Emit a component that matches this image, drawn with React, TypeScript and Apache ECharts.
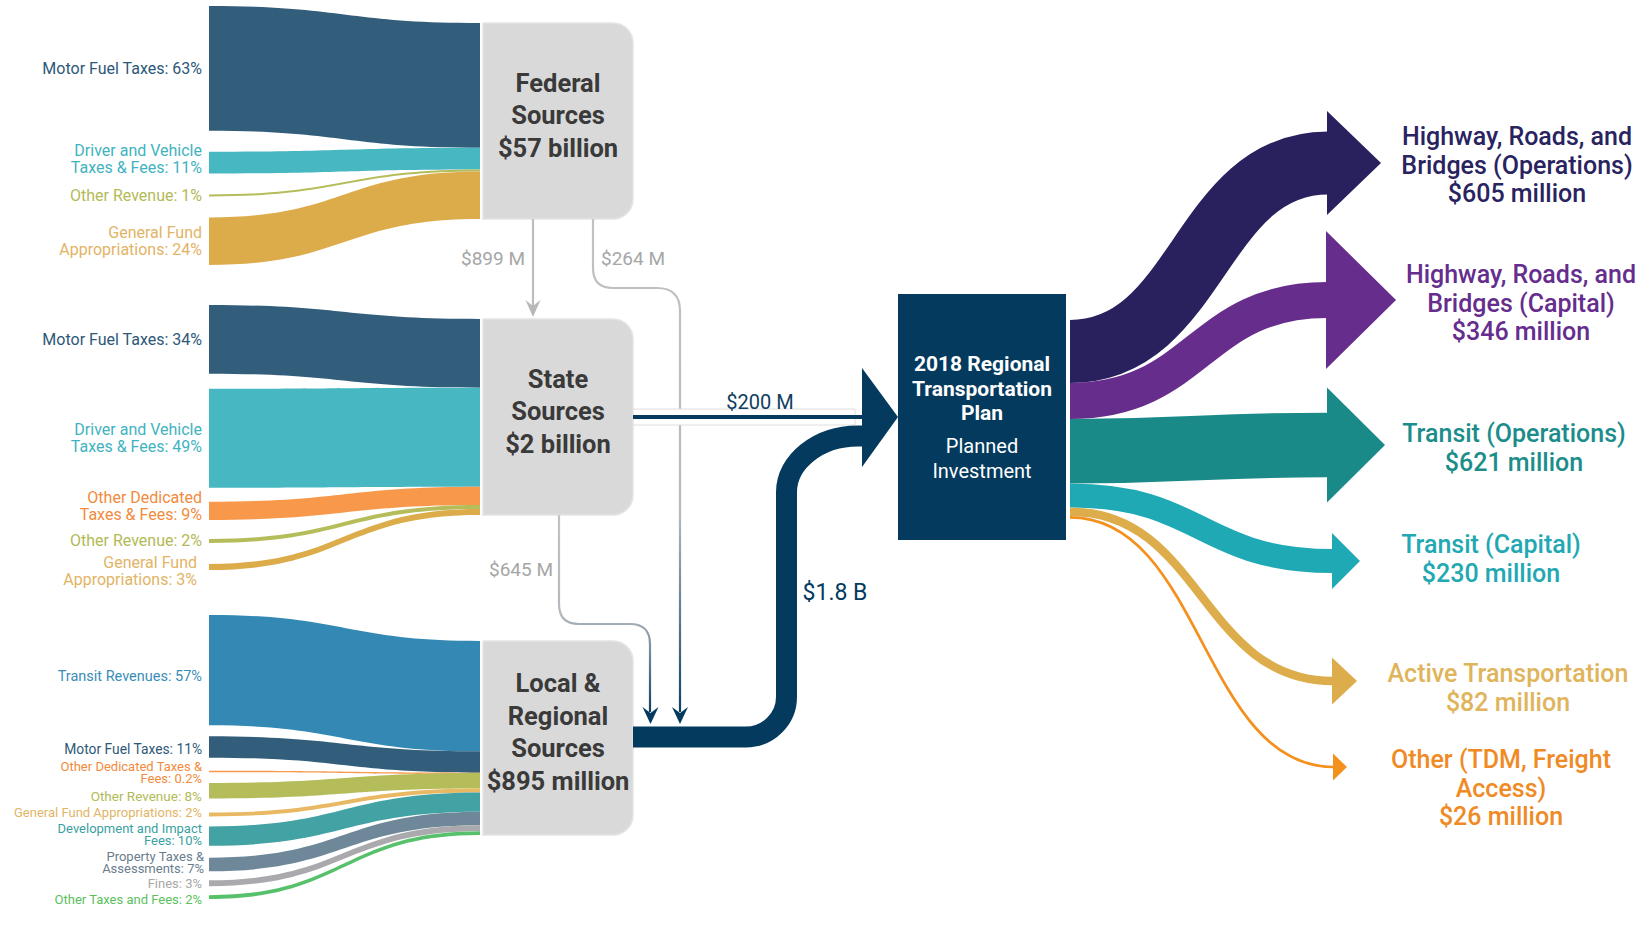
import React, { useEffect, useRef } from "react";
import * as echarts from "echarts";

// ---------------- DATA ----------------
const federalCategories = [
  "Motor Fuel Taxes",
  "Driver and Vehicle\nTaxes & Fees",
  "Other Revenue",
  "General Fund\nAppropriations",
];
const federalShares = [63, 11, 1, 24];

const stateCategories = [
  "Motor Fuel Taxes",
  "Driver and Vehicle\nTaxes & Fees",
  "Other Dedicated\nTaxes & Fees",
  "Other Revenue",
  "General Fund\nAppropriations",
];
const stateShares = [34, 49, 9, 2, 3];

const localCategories = [
  "Transit Revenues",
  "Motor Fuel Taxes",
  "Other Dedicated Taxes &\nFees",
  "Other Revenue",
  "General Fund Appropriations",
  "Development and Impact\nFees",
  "Property Taxes &\nAssessments",
  "Fines",
  "Other Taxes and Fees",
];
const localShares = [57, 11, 0.2, 8, 2, 10, 7, 3, 2];

const sourceNames = ["Federal\nSources", "State\nSources", "Local &\nRegional\nSources"];
const sourceTotals = ["$57 billion", "$2 billion", "$895 million"];

const transferLabels = ["$899 M", "$264 M", "$645 M", "$200 M", "$1.8 B"];

const planTitle = "2018 Regional\nTransportation\nPlan";
const planSubtitle = "Planned\nInvestment";

const investmentCategories = [
  "Highway, Roads, and\nBridges (Operations)",
  "Highway, Roads, and\nBridges (Capital)",
  "Transit (Operations)",
  "Transit (Capital)",
  "Active Transportation",
  "Other (TDM, Freight\nAccess)",
];
const investmentMillions = [605, 346, 621, 230, 82, 26];

// ---------------- STYLE ----------------
const FONT = "Roboto, 'Noto Sans', sans-serif";
const NAVY = "#033a5d";
const GRAY_BOX = "#d9d9d9";
const GRAY_TEXT = "#a6a6a6";

const federalColors = ["#335e7b", "#47b7c2", "#b5bd5b", "#ddac4a"];
const federalLabelColors = ["#2d5878", "#3fb3bf", "#b3ba56", "#e2b466"];
const stateColors = ["#335e7b", "#47b7c2", "#f7984a", "#b5bd5b", "#ddac4a"];
const stateLabelColors = ["#2d5878", "#3fb3bf", "#f28b3d", "#b3ba56", "#e2b466"];
const localColors = ["#3389b3", "#335e7b", "#f7984a", "#b5bd5b", "#e8b862", "#42a2a4", "#6f8899", "#aaaaae", "#56c16a"];
const localLabelColors = ["#3a8db5", "#2d5878", "#f28b3d", "#b3ba56", "#e2b466", "#3a9fa2", "#6b7d8d", "#a8a8a8", "#5bbf5e"];

const federalLabelSizes = [16, 16, 16, 16];
const stateLabelSizes = [16, 16, 16, 16, 16];
const localLabelSizes = [14.5, 13.8, 13, 13.5, 13, 13, 13, 13, 13];

const investmentColors = ["#28215e", "#662d8c", "#1a8a89", "#1fa9b4", "#ddad4b", "#f4901e"];
const investmentLabelColors = ["#29235f", "#652d8d", "#1b8d8b", "#22a8b3", "#e0b45a", "#f08a24"];

// ---------------- LAYOUT ----------------
const BAND_X0 = 209;
const BAND_X1 = 480;
const LABEL_X = 202;
const BOX_X0 = 483;
const BOX_X1 = 633;
const BOX_R = 20;

const GROUP_LAYOUT = [
  { boxTop: 23, boxBottom: 219, leftTop: 6, gaps: [21, 21, 21], lineHeight: 17, labelDy: [0, -4, 0, 0], labelDx: [0, 0, 0, 0] },
  { boxTop: 319, boxBottom: 515, leftTop: 305, gaps: [15, 14, 19, 21], lineHeight: 17, labelDy: [0, 0, -5, 0, 4], labelDx: [0, 0, 0, 0, -5] },
  {
    boxTop: 641, boxBottom: 835, leftTop: 615, gaps: [11, 13, 12, 14, 10, 12, 9, 9], lineHeight: 12,
    labelDy: [6, 2, 2.1, 5.2, -1.6, -1.2, -2.3, 0.4, 2.1], labelDx: [0, 0, 0, 0, 0, 0, 2, 0, 0],
  },
];

const PLAN = { x0: 898, x1: 1066, y0: 294, y1: 540 };
const OUT_X0 = 1070;
const OUT_TOP = 320;
const OUT_UNIT = 0.104; // px per $ million
const OUT_LAYOUT = [
  { endX: 1328, endY: 163, headHalf: 52, headLen: 53, labelX: 1517, labelY: 165 },
  { endX: 1327, endY: 300, headHalf: 69, headLen: 69, labelX: 1521, labelY: 303 },
  { endX: 1328, endY: 445, headHalf: 57.5, headLen: 57, labelX: 1514, labelY: 448 },
  { endX: 1333, endY: 561, headHalf: 28, headLen: 27, labelX: 1491, labelY: 559 },
  { endX: 1333, endY: 681, headHalf: 23.5, headLen: 24, labelX: 1508, labelY: 688 },
  { endX: 1334, endY: 767, headHalf: 13.5, headLen: 13, labelX: 1501, labelY: 788 },
];

const groupCategories = [federalCategories, stateCategories, localCategories];
const groupShares = [federalShares, stateShares, localShares];
const groupColors = [federalColors, stateColors, localColors];
const groupLabelColors = [federalLabelColors, stateLabelColors, localLabelColors];
const groupLabelSizes = [federalLabelSizes, stateLabelSizes, localLabelSizes];

// ---------------- SERIES BUILDERS ----------------
function sourceFlowSeries(g: number) {
  const shares = groupShares[g];
  const cats = groupCategories[g];
  const L = GROUP_LAYOUT[g];
  const total = shares.reduce((a, b) => a + b, 0);
  const unit = (L.boxBottom - L.boxTop) / total;
  return {
    type: "custom",
    coordinateSystem: "cartesian2d",
    silent: true,
    clip: false,
    data: shares.map((v, i) => [i, v]),
    renderItem: (params: any, api: any) => {
      const i = params.dataIndex;
      const v = api.value(1);
      let yl = L.leftTop;
      let yr = L.boxTop;
      for (let j = 0; j < i; j++) {
        yl += shares[j] * unit + L.gaps[j];
        yr += shares[j] * unit;
      }
      const th = api.size([0, v * unit])[1];
      const dt = Math.max(th, 1.5);
      const a0 = api.coord([BAND_X0, yl]);
      const a1 = api.coord([BAND_X0, yl + dt]);
      const b0 = api.coord([BAND_X1, yr]);
      const b1 = api.coord([BAND_X1, yr + dt]);
      const xm = (a0[0] + b0[0]) / 2;
      const d =
        `M${a0[0]},${a0[1]} C${xm},${a0[1]} ${xm},${b0[1]} ${b0[0]},${b0[1]} ` +
        `L${b1[0]},${b1[1]} C${xm},${b1[1]} ${xm},${a1[1]} ${a1[0]},${a1[1]} Z`;
      const lp = api.coord([LABEL_X + L.labelDx[i], yl + th / 2 + L.labelDy[i]]);
      return {
        type: "group",
        children: [
          { type: "path", shape: { pathData: d }, style: { fill: groupColors[g][i] } },
          {
            type: "text",
            x: lp[0],
            y: lp[1],
            style: {
              text: `${cats[i]}: ${v}%`,
              fill: groupLabelColors[g][i],
              fontFamily: FONT,
              fontSize: groupLabelSizes[g][i],
              lineHeight: L.lineHeight,
              align: "right",
              verticalAlign: "middle",
            },
          },
        ],
      };
    },
  };
}

function sourceBoxSeries() {
  return {
    type: "custom",
    coordinateSystem: "cartesian2d",
    silent: true,
    clip: false,
    data: sourceTotals.map((t, i) => [i, 0]),
    renderItem: (params: any, api: any) => {
      const i = params.dataIndex;
      const L = GROUP_LAYOUT[i];
      const p0 = api.coord([BOX_X0, L.boxTop]);
      const p1 = api.coord([BOX_X1, L.boxBottom]);
      const c = api.coord([(BOX_X0 + BOX_X1) / 2, (L.boxTop + L.boxBottom) / 2 - 6]);
      return {
        type: "group",
        children: [
          {
            type: "rect",
            shape: { x: p0[0], y: p0[1], width: p1[0] - p0[0], height: p1[1] - p0[1], r: [0, BOX_R, BOX_R, 0] },
            style: { fill: GRAY_BOX, stroke: "#e4e4e4", lineWidth: 1.5 },
          },
          {
            type: "text",
            x: c[0],
            y: c[1],
            style: {
              text: `${sourceNames[i]}\n${sourceTotals[i]}`,
              fill: "#3a3a3a",
              fontFamily: FONT,
              fontWeight: "bold",
              fontSize: 25.5,
              lineHeight: 32.5,
              align: "center",
              verticalAlign: "middle",
            },
          },
        ],
      };
    },
  };
}

function chevron(api: any, x: number, tipY: number, halfW: number, len: number, notch: number, fill: string) {
  const pts = [
    api.coord([x, tipY]),
    api.coord([x - halfW, tipY - len]),
    api.coord([x, tipY - notch]),
    api.coord([x + halfW, tipY - len]),
  ];
  return { type: "polygon", shape: { points: pts }, style: { fill } };
}

const connectorGradient = (mid: number) => ({
  type: "linear",
  x: 0,
  y: 0,
  x2: 0,
  y2: 1,
  colorStops: [
    { offset: 0, color: "#c2c2c2" },
    { offset: mid, color: "#b4b9bf" },
    { offset: 1, color: "#0f4063" },
  ],
});

function transferSeries() {
  return {
    type: "custom",
    coordinateSystem: "cartesian2d",
    silent: true,
    clip: false,
    data: transferLabels.map((t, i) => [i, 0]),
    renderItem: (params: any, api: any) => {
      const i = params.dataIndex;
      const label = transferLabels[i];
      const c = (x: number, y: number) => api.coord([x, y]).join(",");
      const textEl = (x: number, y: number, align: string, fill: string, size: number) => {
        const p = api.coord([x, y]);
        return {
          type: "text",
          x: p[0],
          y: p[1],
          style: { text: label, fill, fontFamily: FONT, fontSize: size, align, verticalAlign: "middle" },
        };
      };
      if (i === 0) {
        return {
          type: "group",
          children: [
            { type: "path", shape: { pathData: `M${c(533, 219)} L${c(533, 308)}` }, style: { stroke: "#bdbdbd", lineWidth: 2.2, fill: "none" } },
            chevron(api, 533, 317, 7.5, 17, 11, "#b8b8b8"),
            textEl(525, 258, "right", GRAY_TEXT, 19),
          ],
        };
      }
      if (i === 1) {
        const d = `M${c(593, 219)} L${c(593, 268)} Q${c(593, 288)} ${c(613, 288)} L${c(657, 288)} Q${c(680, 288)} ${c(680, 311)} L${c(680, 712)}`;
        return {
          type: "group",
          children: [
            { type: "path", shape: { pathData: d }, style: { stroke: connectorGradient(0.6), lineWidth: 2.2, fill: "none" } },
            chevron(api, 680, 724, 8, 17, 11, NAVY),
            textEl(601, 258, "left", GRAY_TEXT, 19),
          ],
        };
      }
      if (i === 2) {
        const d = `M${c(559, 515)} L${c(559, 604)} Q${c(559, 624)} ${c(579, 624)} L${c(630, 624)} Q${c(650, 624)} ${c(650, 644)} L${c(650, 712)}`;
        return {
          type: "group",
          children: [
            { type: "path", shape: { pathData: d }, style: { stroke: connectorGradient(0.5), lineWidth: 2.2, fill: "none" } },
            chevron(api, 650.5, 724, 8, 17, 11, NAVY),
            textEl(553, 569, "right", GRAY_TEXT, 19),
          ],
        };
      }
      if (i === 3) {
        const r0 = api.coord([633, 409]);
        const r1 = api.coord([855, 425]);
        const l0 = api.coord([633, 417]);
        const l1 = api.coord([866, 417]);
        return {
          type: "group",
          children: [
            { type: "rect", shape: { x: r0[0], y: r0[1], width: r1[0] - r0[0], height: r1[1] - r0[1] }, style: { fill: "#ffffff", stroke: "#dedede", lineWidth: 1 } },
            { type: "line", shape: { x1: l0[0], y1: l0[1], x2: l1[0], y2: l1[1] }, style: { stroke: NAVY, lineWidth: 4 } },
            textEl(760, 402, "center", "#0f3e60", 20),
          ],
        };
      }
      const d = `M${c(633, 737)} L${c(746, 737)} C${c(768, 737)} ${c(786.5, 719)} ${c(786.5, 697)} L${c(786.5, 492)} C${c(786.5, 462)} ${c(818, 436)} ${c(858, 436)} L${c(866, 436)}`;
      const head = [api.coord([862, 368]), api.coord([898, 417]), api.coord([862, 467])];
      return {
        type: "group",
        children: [
          { type: "path", shape: { pathData: d }, style: { stroke: NAVY, lineWidth: 21, fill: "none", lineJoin: "round" } },
          { type: "polygon", shape: { points: head }, style: { fill: NAVY } },
          textEl(835, 592, "center", NAVY, 23),
        ],
      };
    },
  };
}

function planSeries() {
  return {
    type: "custom",
    coordinateSystem: "cartesian2d",
    silent: true,
    clip: false,
    data: [[0, 0]],
    renderItem: (params: any, api: any) => {
      const p0 = api.coord([PLAN.x0, PLAN.y0]);
      const p1 = api.coord([PLAN.x1, PLAN.y1]);
      const cx = (PLAN.x0 + PLAN.x1) / 2;
      const t = api.coord([cx, 388.5]);
      const s = api.coord([cx, 458.5]);
      return {
        type: "group",
        children: [
          { type: "rect", shape: { x: p0[0], y: p0[1], width: p1[0] - p0[0], height: p1[1] - p0[1] }, style: { fill: NAVY } },
          {
            type: "text",
            x: t[0],
            y: t[1],
            style: { text: planTitle, fill: "#ffffff", fontFamily: FONT, fontWeight: "bold", fontSize: 21, lineHeight: 24.5, align: "center", verticalAlign: "middle" },
          },
          {
            type: "text",
            x: s[0],
            y: s[1],
            style: { text: planSubtitle, fill: "#ffffff", fontFamily: FONT, fontSize: 20, lineHeight: 25, align: "center", verticalAlign: "middle" },
          },
        ],
      };
    },
  };
}

function investmentSeries() {
  return {
    type: "custom",
    coordinateSystem: "cartesian2d",
    silent: true,
    clip: false,
    data: investmentMillions.map((v, i) => [i, v]),
    renderItem: (params: any, api: any) => {
      const i = params.dataIndex;
      const v = api.value(1);
      let y = OUT_TOP;
      for (let j = 0; j < i; j++) y += investmentMillions[j] * OUT_UNIT;
      const th = api.size([0, v * OUT_UNIT])[1];
      const L = OUT_LAYOUT[i];
      const s = api.coord([OUT_X0, y + th / 2]);
      const e = api.coord([L.endX, L.endY]);
      const k = (e[0] - s[0]) * 0.5;
      const head = [
        api.coord([L.endX - 1, L.endY - L.headHalf]),
        api.coord([L.endX + L.headLen, L.endY]),
        api.coord([L.endX - 1, L.endY + L.headHalf]),
      ];
      const lp = api.coord([L.labelX, L.labelY]);
      return {
        type: "group",
        children: [
          {
            type: "bezierCurve",
            shape: { x1: s[0], y1: s[1], cpx1: s[0] + k, cpy1: s[1], cpx2: e[0] - k, cpy2: e[1], x2: e[0], y2: e[1] },
            style: { stroke: investmentColors[i], lineWidth: Math.max(th, 1.8), fill: "none", lineCap: "butt" },
          },
          { type: "polygon", shape: { points: head }, style: { fill: investmentColors[i] } },
          {
            type: "text",
            x: lp[0],
            y: lp[1],
            style: {
              text: `${investmentCategories[i]}\n$${v} million`,
              fill: investmentLabelColors[i],
              fontFamily: FONT,
              fontWeight: 500,
              fontSize: 25,
              lineHeight: 28.5,
              align: "center",
              verticalAlign: "middle",
            },
          },
        ],
      };
    },
  };
}

function buildOption() {
  return {
    animation: false,
    backgroundColor: "#ffffff",
    textStyle: { fontFamily: FONT },
    grid: { left: 0, right: 0, top: 0, bottom: 0, show: false },
    xAxis: { type: "value", min: 0, max: 1648, show: false },
    yAxis: { type: "value", min: 0, max: 937, inverse: true, show: false },
    series: [
      sourceFlowSeries(0),
      sourceFlowSeries(1),
      sourceFlowSeries(2),
      sourceBoxSeries(),
      transferSeries(),
      planSeries(),
      investmentSeries(),
    ],
  };
}

export default function App() {
  const ref = useRef<HTMLDivElement>(null);
  useEffect(() => {
    if (!ref.current) return;
    const chart = echarts.init(ref.current, null, { renderer: "svg" });
    chart.setOption(buildOption() as any);
    return () => chart.dispose();
  }, []);
  return (
    <div
      ref={ref}
      style={{ position: "absolute", left: 0, top: 0, width: 1648, height: 937, background: "#ffffff" }}
    />
  );
}
